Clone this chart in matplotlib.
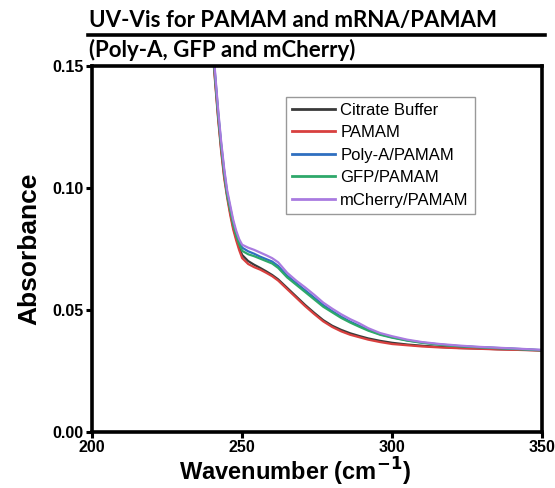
import matplotlib
matplotlib.use("Agg")
import matplotlib.pyplot as plt
from matplotlib.lines import Line2D

# Data
wavenumber = [240, 241, 242, 243, 244, 245, 246, 247, 248, 249, 250, 252, 254, 256,
              258, 260, 262, 265, 268, 271, 274, 277, 280, 283, 286, 289, 292, 296,
              300, 305, 310, 316, 322, 328, 335, 342, 350]

citrate = [0.160, 0.144, 0.129, 0.116, 0.105, 0.097, 0.090, 0.084, 0.0795, 0.0755, 0.0725,
           0.0700, 0.0685, 0.0672, 0.0658, 0.0643, 0.0625, 0.0590, 0.0555, 0.0520, 0.0488,
           0.0458, 0.0435, 0.0418, 0.0404, 0.0393, 0.0383, 0.0373, 0.0365, 0.0358, 0.0353,
           0.0348, 0.0344, 0.0342, 0.0339, 0.0337, 0.0334]
pamam = [0.159, 0.143, 0.128, 0.115, 0.104, 0.096, 0.089, 0.083, 0.0785, 0.0745, 0.0712,
         0.0688, 0.0675, 0.0665, 0.0652, 0.0638, 0.0620, 0.0585, 0.0550, 0.0515, 0.0483,
         0.0453, 0.0430, 0.0412, 0.0398, 0.0388, 0.0378, 0.0368, 0.0360, 0.0355, 0.0350,
         0.0346, 0.0343, 0.0341, 0.0338, 0.0336, 0.0333]
polya = [0.162, 0.146, 0.131, 0.118, 0.107, 0.098, 0.092, 0.086, 0.0815, 0.0780, 0.0755,
         0.0740, 0.0730, 0.0718, 0.0708, 0.0698, 0.0680, 0.0640, 0.0610, 0.0580, 0.0550,
         0.0520, 0.0495, 0.0472, 0.0452, 0.0435, 0.0418, 0.0400, 0.0388, 0.0375, 0.0366,
         0.0358, 0.0352, 0.0348, 0.0344, 0.0340, 0.0335]
gfp = [0.161, 0.145, 0.130, 0.117, 0.106, 0.097, 0.091, 0.085, 0.0805, 0.0770, 0.0742,
       0.0728, 0.0720, 0.0710, 0.0700, 0.0690, 0.0672, 0.0633, 0.0603, 0.0573, 0.0543,
       0.0513, 0.0490, 0.0467, 0.0448, 0.0431, 0.0415, 0.0398, 0.0386, 0.0374, 0.0365,
       0.0357, 0.0351, 0.0347, 0.0343, 0.0339, 0.0334]
mcherry = [0.163, 0.147, 0.132, 0.119, 0.108, 0.099, 0.093, 0.087, 0.0825, 0.0790, 0.0767,
           0.0755, 0.0746, 0.0735, 0.0724, 0.0712, 0.0695, 0.0652, 0.0620, 0.0592, 0.0562,
           0.0530, 0.0505, 0.0482, 0.0462, 0.0445, 0.0425, 0.0405, 0.0392, 0.0378, 0.0368,
           0.0360, 0.0354, 0.0349, 0.0345, 0.0341, 0.0336]

labels = ["Citrate Buffer", "PAMAM", "Poly-A/PAMAM", "GFP/PAMAM", "mCherry/PAMAM"]
colors = ["#3a3a3a", "#d8403f", "#2f6fc0", "#2ea86a", "#a97be0"]

fig = plt.figure(figsize=(5.55, 4.88), dpi=100)
ax = fig.add_axes([0.166, 0.115, 0.811, 0.750])

for ys, lab, c in zip([citrate, pamam, polya, gfp, mcherry], labels, colors):
    ax.plot(wavenumber, ys, color=c, lw=1.6, label=lab)

ax.set_xlim(200, 350)
ax.set_ylim(0, 0.15)
ax.set_xticks([200, 250, 300, 350])
ax.set_yticks([0.00, 0.05, 0.10, 0.15])
ax.set_yticklabels(["0.00", "0.05", "0.10", "0.15"])
for s in ax.spines.values():
    s.set_linewidth(2.6)
ax.tick_params(direction="out", length=4, width=2.2, pad=2)
for t in ax.get_xticklabels() + ax.get_yticklabels():
    t.set_fontfamily("Liberation Sans")
    t.set_fontweight("bold")
    t.set_fontsize(11.5)

ax.set_xlabel("Wavenumber (cm$^{\\mathbf{-1}}$)", fontsize=17, fontweight="bold",
              family="Liberation Sans", va="top")
ax.xaxis.set_label_coords(0.45, -0.066)
ax.set_ylabel("Absorbance", fontsize=19, fontweight="bold",
              family="Liberation Sans", va="center")
ax.yaxis.set_label_coords(-0.14, 0.5)

leg = ax.legend(loc="upper left", bbox_to_anchor=(0.431, 0.915), borderaxespad=0,
                fancybox=False, edgecolor="#808080",
                prop={"family": "Liberation Sans", "size": 12},
                handlelength=2.6, handletextpad=0.3, labelspacing=0.45,
                borderpad=0.35)
leg.get_frame().set_linewidth(1.0)
for h in leg.get_lines():
    h.set_linewidth(2.0)

# Title with underline
fig.text(0.160, 0.958, "UV-Vis for PAMAM and mRNA/PAMAM", fontsize=16,
         fontweight="bold", family="Lato", va="center", ha="left")
fig.text(0.160, 0.897, "(Poly-A, GFP and mCherry)", fontsize=16,
         fontweight="bold", family="Lato", va="center", ha="left")
fig.add_artist(Line2D([0.159, 0.982], [0.929, 0.929], color="black", lw=2.6,
                      transform=fig.transFigure))

fig.savefig("out.png", dpi=100)
